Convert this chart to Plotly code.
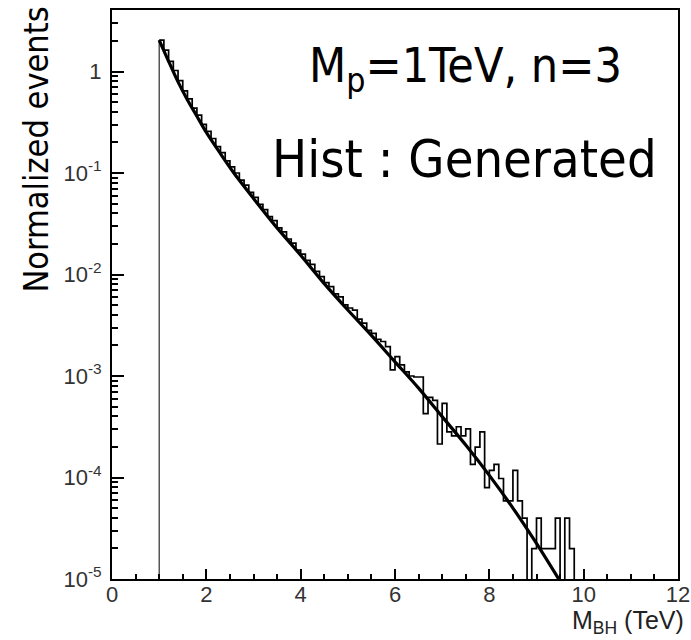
import plotly.graph_objects as go

# ---------------- data ----------------
# smooth (fitted) curve
curve_x = [1.0, 1.2, 1.4, 1.6, 1.8, 2.0, 2.3, 2.6, 3.0, 3.5, 4.0, 4.5,
           5.0, 5.5, 6.0, 6.5, 7.0, 7.5, 8.0, 8.5, 9.0, 9.5]
curve_y = [2.04, 1.26, 0.79, 0.525, 0.363, 0.251, 0.155, 0.0977, 0.0562,
           0.0288, 0.0155, 0.00813, 0.00447, 0.00251, 0.00138, 7.59e-4,
           3.98e-4, 2.09e-4, 1.05e-4, 5.0e-5, 2.24e-5, 9.5e-6]

# generated histogram: bins of 0.1 TeV starting at 1.0 TeV (log10 of content, None = empty)
hist_start = 1.0
hist_width = 0.1
hist_log10 = [
    0.31, 0.21, 0.10, 0.01, -0.09, -0.19, -0.27, -0.36, -0.43, -0.52,
    -0.59, -0.66, -0.74, -0.80, -0.88, -0.94, -1.00, -1.07, -1.12, -1.19,
    -1.24, -1.31, -1.36, -1.43, -1.47, -1.54, -1.58, -1.65, -1.69, -1.76,
    -1.80, -1.86, -1.90, -1.97, -2.02, -2.08, -2.12, -2.19, -2.22, -2.30,
    -2.33, -2.35, -2.44, -2.48, -2.55, -2.58, -2.64, -2.66, -2.71, -2.94,
    -2.81, -2.89, -2.96, -3.00, -3.01, -3.01, -3.37, -3.21, -3.24, -3.67,
    -3.27, -3.55, -3.59, -3.50, -3.59, -3.52, -3.87, -3.70, -3.55, -4.10,
    -3.93, -3.87, -4.01, -4.23, -4.23, -3.93, -4.23, -4.40, None, -4.70,
    -4.40, -4.70, -4.70, -4.70, -4.40, None, -4.40, -4.70,
]

x_ticks = [0, 2, 4, 6, 8, 10, 12]
y_tickvals = [1e-5, 1e-4, 1e-3, 1e-2, 1e-1, 1]
y_ticktext = ["10<sup>-5</sup>", "10<sup>-4</sup>", "10<sup>-3</sup>",
              "10<sup>-2</sup>", "10<sup>-1</sup>", "1"]

# ---------------- build ----------------
FLOOR = 1e-9  # empty bins drawn down to the bottom of the frame
n = len(hist_log10)
edges = [round(hist_start + hist_width * i, 2) for i in range(n + 1)]
vals = [FLOOR if v is None else 10 ** v for v in hist_log10]
step_x = edges
step_y = vals + [FLOOR]

minor_y = [m * 10 ** k for k in range(-5, 1) for m in range(2, 10)]

fig = go.Figure()
fig.add_trace(go.Scatter(x=step_x, y=step_y, mode="lines",
                         line=dict(color="black", width=1.7, shape="hv"),
                         showlegend=False, hoverinfo="skip"))
fig.add_trace(go.Scatter(x=[edges[0], edges[0]], y=[FLOOR, vals[0]], mode="lines",
                         line=dict(color="black", width=1),
                         showlegend=False, hoverinfo="skip"))
fig.add_trace(go.Scatter(x=curve_x, y=curve_y, mode="lines",
                         line=dict(color="black", width=3.2, shape="spline", smoothing=0.8),
                         showlegend=False, hoverinfo="skip"))

tick_font = dict(family="Liberation Sans, Arial, sans-serif", size=22, color="#333")

fig.update_layout(
    width=691, height=640,
    margin=dict(l=112, r=13, t=10, b=61, autoexpand=False),
    paper_bgcolor="white", plot_bgcolor="white",
    showlegend=False,
    xaxis=dict(range=[0, 12], tickmode="array", tickvals=x_ticks,
               ticktext=[str(t) for t in x_ticks],
               ticks="inside", ticklen=10, tickwidth=2, tickcolor="black",
               minor=dict(dtick=0.5, tick0=0, ticks="inside", ticklen=5,
                          tickwidth=1.5, tickcolor="black"),
               showline=True, linewidth=2, linecolor="black", mirror=True,
               showgrid=False, zeroline=False, tickfont=tick_font,
               ticklabelstandoff=-5,
               automargin=False, ticklabeloverflow="allow"),
    yaxis=dict(type="log", range=[-5, 0.606], tickmode="array",
               tickvals=y_tickvals, ticktext=y_ticktext,
               ticks="inside", ticklen=12, tickwidth=2, tickcolor="black",
               minor=dict(tickmode="array", tickvals=minor_y, ticks="inside",
                          ticklen=6, tickwidth=1.5, tickcolor="black"),
               showline=True, linewidth=2, linecolor="black", mirror=True,
               showgrid=False, zeroline=False, tickfont=tick_font,
               ticklabelstandoff=4, automargin=False, ticklabeloverflow="allow"),
)

big_font = "DejaVu Sans Condensed, DejaVu Sans, sans-serif"
fig.add_annotation(text="M<sub>p</sub>=1TeV, n=3", xref="paper", yref="paper",
                   x=0.624, y=0.898, xanchor="center", yanchor="middle",
                   showarrow=False, font=dict(family=big_font, size=48, color="black"))
fig.add_annotation(text="Hist : Generated", xref="paper", yref="paper",
                   x=0.622, y=0.738, xanchor="center", yanchor="middle",
                   showarrow=False, font=dict(family=big_font, size=52, color="black"))
fig.add_annotation(text="Normalized events", xref="paper", yref="paper",
                   x=-0.134, y=0.755, xanchor="center", yanchor="middle", textangle=-90,
                   showarrow=False, font=dict(family=big_font, size=34, color="black"))
fig.add_annotation(text="M<sub>BH</sub> (TeV)", xref="paper", yref="paper",
                   x=1.012, y=-0.1055, xanchor="right", yanchor="bottom",
                   showarrow=False, borderpad=0,
                   font=dict(family="Liberation Sans, Arial, sans-serif",
                             size=25, color="#222"))

fig.write_html("out.html")
